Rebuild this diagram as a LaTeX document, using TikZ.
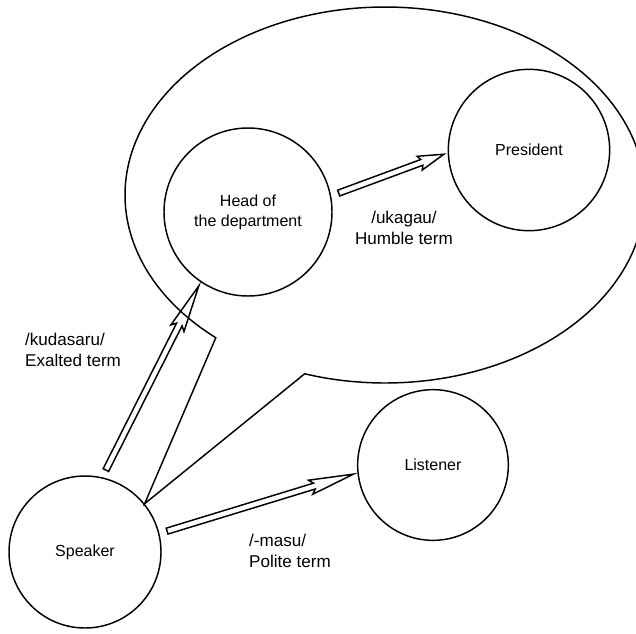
\documentclass[tikz,border=0pt]{standalone}
\usepackage{fontspec}
\setmainfont{Liberation Sans}
\usetikzlibrary{calc}
\tikzset{
  person/.style={draw,circle,inner sep=0pt,align=center,font=\fontsize{12}{15}\selectfont},
  term/.style={align=left,font=\fontsize{12.8}{16}\selectfont}
}
% hollow arrow between two border points
\newcommand{\hollowarrow}[2]{%
  \path (#1) -- (#2) coordinate[pos=0] (s) coordinate[pos=1] (e);
  \coordinate (tl) at ($(s)!6pt!(e)$);
  \coordinate (tp) at ($(e)!3pt!(s)$);
  \coordinate (hb) at ($(tp)!0.23!(tl)$);
  \coordinate (sb) at ($(tp)!0.21!(tl)$);
  \draw ($(tl)!2.3pt!90:(tp)$) -- ($(sb)!2.3pt!90:(tp)$) -- ($(hb)!5.5pt!90:(tp)$)
    -- (tp) -- ($(hb)!5.5pt!-90:(tp)$) -- ($(sb)!2.3pt!-90:(tp)$) -- ($(tl)!2.3pt!-90:(tp)$) -- cycle;
}
\begin{document}
\begin{tikzpicture}[x=0.75pt,y=-0.75pt,line width=1.1pt]
\clip (0,0) rectangle (636,633);
% the people
\node[person,minimum size=126pt] (head) at (248,212) {Head of\\the department};
\node[person,minimum size=121pt] (president) at (529,150) {President};
\node[person,minimum size=113pt] (listener) at (433,465) {Listener};
\node[person,minimum size=114pt] (speaker) at (85,552) {Speaker};
% the speech bubble
\coordinate (bubbletip) at (speaker.39);
\draw plot[domain=108:-229.4,samples=120,smooth] ({385+260*cos(\x)},{195+188*sin(\x)})
  -- (bubbletip) -- cycle;
% the arrows
\hollowarrow{speaker.77}{head.236}
\hollowarrow{head.11}{president.182}
\hollowarrow{speaker.14}{listener.186}
% the terms
\node[term,anchor=west] (exalted) at (20,350) {/kudasaru/\\Exalted term};
\node[term,align=center] (humble) at (404,228) {/ukagau/\\Humble term};
\node[term,anchor=west] (polite) at (244,551) {/-masu/\\Polite term};
\end{tikzpicture}
\end{document}
